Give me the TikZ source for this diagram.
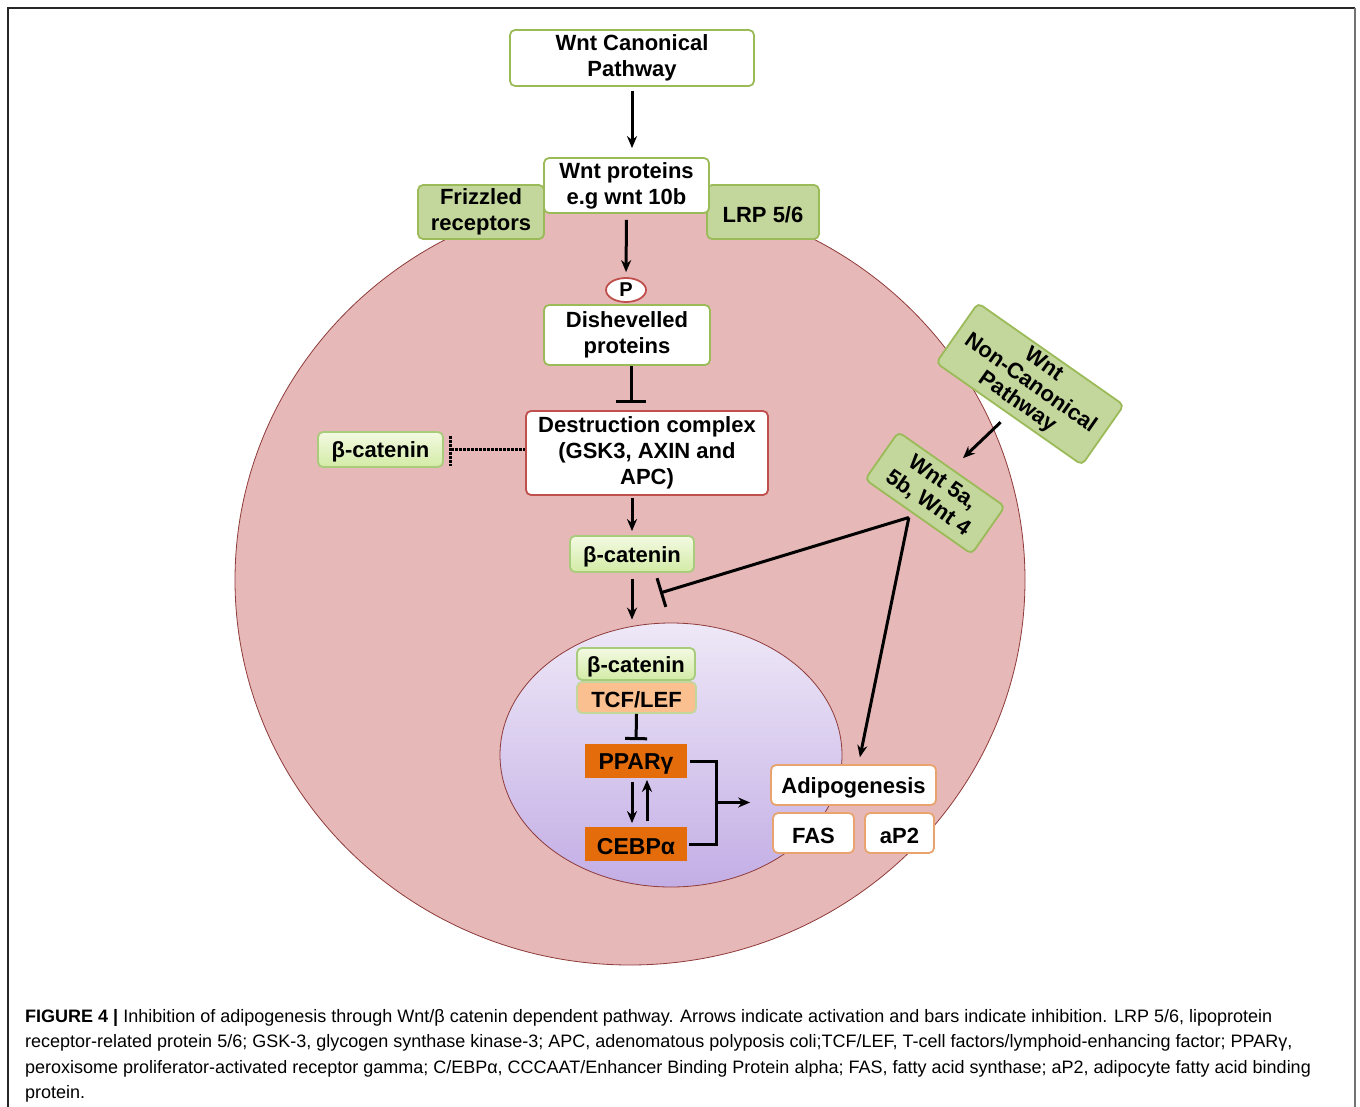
\documentclass[tikz,border=0pt]{standalone}
\usepackage{fontspec}
\setmainfont{Liberation Sans}
\usepackage{tikz}
\usetikzlibrary{shapes.geometric, arrows.meta, calc, positioning}
\usepackage{xcolor}
\definecolor{leafgreen}{HTML}{9BBB59}
\definecolor{leaffill}{HTML}{C3D69B}
\definecolor{limetop}{HTML}{F3FAE2}
\definecolor{limebottom}{HTML}{D3EBA6}
\definecolor{limerim}{HTML}{A9CB7C}
\definecolor{brickred}{HTML}{C0504D}
\definecolor{cellpink}{HTML}{E6B8B7}
\definecolor{cellrim}{HTML}{8E3B3A}
\definecolor{lilactop}{HTML}{EEE8F7}
\definecolor{lilacbottom}{HTML}{C3AEE5}
\definecolor{deeporange}{HTML}{E46C0A}
\definecolor{peach}{HTML}{FAC090}
\definecolor{peachrim}{HTML}{E9A36F}

\begin{document}
\begin{tikzpicture}[x=1pt,y=-1pt,>={Stealth[length=12pt,width=10pt]}]
        \tikzstyle{box}=[rounded corners=5pt, line width=1.8pt, align=center, inner sep=0pt,
                         font=\bfseries\fontsize{22}{26}\selectfont,
                         execute at begin node={\rule{0pt}{21pt}}]
        \tikzstyle{whitebox}=[box, draw=leafgreen, fill=white]
        \tikzstyle{greenbox}=[box, draw=leafgreen, fill=leaffill]
        \tikzstyle{catbox}=[box, draw=limerim, top color=limetop, bottom color=limebottom]
        \tikzstyle{orangebox}=[box, rounded corners=0pt, draw=deeporange, fill=deeporange,
                               font=\bfseries\fontsize{23}{26}\selectfont]
        \tikzstyle{adipbox}=[box, draw=peachrim, fill=white]
        \tikzstyle{link}=[line width=3pt]
        \tikzstyle{block}=[link, -{Bar[width=30pt,line width=3pt]}]
        \useasboundingbox (0,0) rectangle (1360,1107);

        % Frame
        \draw[line width=1.6pt, black!85] (8,1107) -- (8,8) -- (1355,8);
        \draw[line width=1.6pt, black!55] (1355,8) -- (1355,1107);

        % Cell and nucleus
        \node[ellipse, draw=cellrim, fill=cellpink, line width=0.8pt, inner sep=0pt,
              minimum width=790pt, minimum height=770pt] (cell) at (630,580) {};
        \node[ellipse, draw=cellrim, line width=0.8pt, inner sep=0pt,
              top color=lilactop, bottom color=lilacbottom,
              minimum width=342pt, minimum height=264pt] (nuc) at (671,755) {};

        % Canonical branch
        \node[whitebox, minimum width=244pt, minimum height=56pt] (canon) at (632,58) {Wnt Canonical\\Pathway};
        \node[greenbox, minimum width=126pt, minimum height=54pt] (frz) at (481,212) {Frizzled\\receptors};
        \node[greenbox, minimum width=112pt, minimum height=54pt] (lrp) at (763,212) {LRP 5/6};
        \node[whitebox, minimum width=165pt, minimum height=55pt] (wntp) at (626.5,185.5) {Wnt proteins\\e.g wnt 10b};
        \node[ellipse, draw=brickred, fill=white, line width=1.8pt, inner sep=0pt,
              minimum width=40pt, minimum height=24pt, font=\bfseries\fontsize{20}{24}\selectfont] (pnode) at (626,290) {P};
        \node[whitebox, minimum width=166pt, minimum height=60pt] (dish) at (627,335) {Dishevelled\\proteins};
        \node[box, draw=brickred, fill=white, minimum width=242pt, minimum height=84pt] (destr) at (647,453)
             {Destruction complex\\(GSK3, AXIN and\\APC)};
        \node[catbox, minimum width=125pt, minimum height=35pt] (bcl) at (380.5,449.5) {β-catenin};
        \node[catbox, minimum width=124pt, minimum height=36pt] (bcm) at (632,554) {β-catenin};

        % Non-canonical branch
        \node[greenbox, rotate=-35, minimum width=178pt, minimum height=73pt,
              font=\bfseries\fontsize{22}{23}\selectfont] (noncanon) at (1030,384) {Wnt\\Non-Canonical\\Pathway};
        \node[greenbox, rotate=-35, minimum width=130pt, minimum height=58pt,
              font=\bfseries\fontsize{22}{25}\selectfont] (wnt5) at (935,493) {Wnt 5a,\\5b, Wnt 4};

        % Nucleus content
        \node[catbox, minimum width=118pt, minimum height=32pt] (bcn) at (636,664) {β-catenin};
        \node[box, draw=leaffill, fill=peach, minimum width=119pt, minimum height=31pt] (tcf) at (636.5,697.5) {TCF/LEF};
        \node[orangebox, minimum width=100pt, minimum height=32pt] (ppar) at (636,761) {PPARγ};
        \node[orangebox, minimum width=100pt, minimum height=32pt] (cebp) at (636,844) {CEBPα};

        % Targets
        \node[adipbox, minimum width=165pt, minimum height=40pt] (adip) at (853.5,785) {Adipogenesis};
        \node[adipbox, minimum width=81pt, minimum height=40pt] (fas) at (813.5,833) {FAS};
        \node[adipbox, minimum width=69pt, minimum height=40pt] (ap2) at (899.5,833) {aP2};

        % Arrows and bars
        \draw[link,->, shorten <=4pt, shorten >=9pt] (canon.south) -- (canon.south |- wntp.north);
        \draw[link,->, shorten <=6pt, shorten >=5pt] (wntp.south) -- (pnode.north);
        \draw[block, shorten >=7pt] ([xshift=4pt]dish.south) -- ([xshift=4pt]dish.south |- destr.north);
        \draw[link,->, shorten <=2pt, shorten >=4pt] (bcm.north |- destr.south) -- (bcm.north);
        \draw[link,->, shorten <=6pt, shorten >=3pt] (bcm.south) -- (bcm.south |- nuc.north);

        % Dotted link to free beta-catenin
        \coordinate (bcdot) at ([xshift=7pt]bcl.east);
        \draw[link, densely dotted] (bcdot) -- (bcdot -| destr.west);
        \draw[link, densely dotted, shorten <=5pt, shorten >=2pt] (bcdot |- bcl.north) -- (bcdot |- bcl.south);

        % Non-canonical effects
        \draw[link,->, shorten <=11pt, shorten >=15pt] (noncanon.south) -- (wnt5.north);
        \coordinate (wtip) at ([xshift=-9pt]wnt5.south);
        \coordinate (blk) at (660,593);
        \draw[block] (wtip) -- (blk);
        \draw[link,->, shorten >=7pt] (wtip) -- ([xshift=5pt]adip.north);

        % Nuclear regulation
        \draw[link, -{Bar[width=22pt,line width=3pt]}, shorten >=4pt] (tcf.south) -- (ppar.north);
        \draw[link,->, shorten <=4pt, shorten >=4pt] ([xshift=-4pt]ppar.south) -- ([xshift=-4pt]cebp.north);
        \draw[link,->, shorten <=6pt, shorten >=2pt] ([xshift=11pt]cebp.north) -- ([xshift=11pt]ppar.south);
        \draw[link] ([xshift=3pt]ppar.east) -- ++(27,0) |- ([xshift=2pt]cebp.east);
        \coordinate (join) at ($(ppar.east)!.5!(cebp.east)+(30,0)$);
        \draw[link,->, shorten >=20pt] (join) -- (join -| adip.west);

        % Caption
        \node[anchor=north west, inner sep=0pt, align=left, font=\fontsize{18}{25.5}\selectfont] (caption) at (25,1009)
        {\textbf{FIGURE 4 |} Inhibition of adipogenesis through Wnt/β catenin dependent pathway. Arrows indicate activation and bars indicate inhibition. LRP 5/6, lipoprotein\\
        receptor-related protein 5/6; GSK-3, glycogen synthase kinase-3; APC, adenomatous polyposis coli;TCF/LEF, T-cell factors/lymphoid-enhancing factor; PPARγ,\\
        peroxisome proliferator-activated receptor gamma; C/EBPα, CCCAAT/Enhancer Binding Protein alpha; FAS, fatty acid synthase; aP2, adipocyte fatty acid binding\\
        protein.};
\end{tikzpicture}
\end{document}
